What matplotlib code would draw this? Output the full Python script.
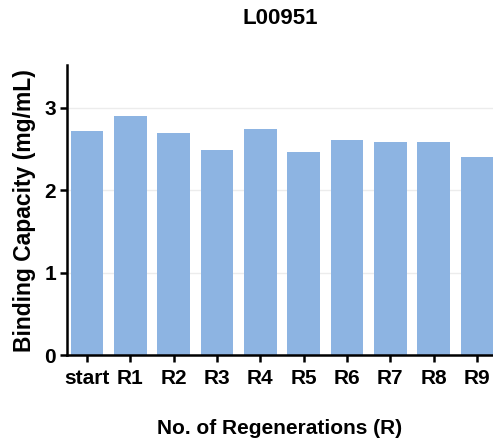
import matplotlib.pyplot as plt

plt.rcParams['font.family'] = ['Liberation Sans', 'DejaVu Sans']

labels = ['start', 'R1', 'R2', 'R3', 'R4', 'R5', 'R6', 'R7', 'R8', 'R9']
capacity = [2.72, 2.90, 2.69, 2.49, 2.75, 2.47, 2.61, 2.59, 2.59, 2.40]

fig = plt.figure(figsize=(4.93, 4.40), dpi=100)
ax = fig.add_axes([0.136, 0.193, 0.864, 0.659])

x = list(range(len(labels)))
ax.bar(x, capacity, width=0.75, color='#8db4e2', zorder=2)

ax.set_xlim(-0.46, 9.37)
ax.set_ylim(0, 3.52)
ax.set_yticks([0, 1, 2, 3])
ax.set_xticks(x)
ax.set_xticklabels(labels)
ax.yaxis.grid(True, color='#ececec', linewidth=1, zorder=0)

for s in ['top', 'right']:
    ax.spines[s].set_visible(False)
for s in ['left', 'bottom']:
    ax.spines[s].set_linewidth(1.8)
ax.tick_params(axis='both', width=1.8, length=5, labelsize=15, pad=3)
ax.tick_params(axis='x', pad=5)
for t in ax.get_xticklabels() + ax.get_yticklabels():
    t.set_fontweight('bold')

ax.set_ylabel('Binding Capacity (mg/mL)', fontsize=16.5, fontweight='bold', labelpad=6)
ax.set_xlabel('No. of Regenerations (R)', fontsize=15, fontweight='bold', labelpad=22)
fig.text(0.568, 0.958, 'L00951', fontsize=16, fontweight='bold', ha='center', va='center')

fig.savefig('out.png', dpi=100)
